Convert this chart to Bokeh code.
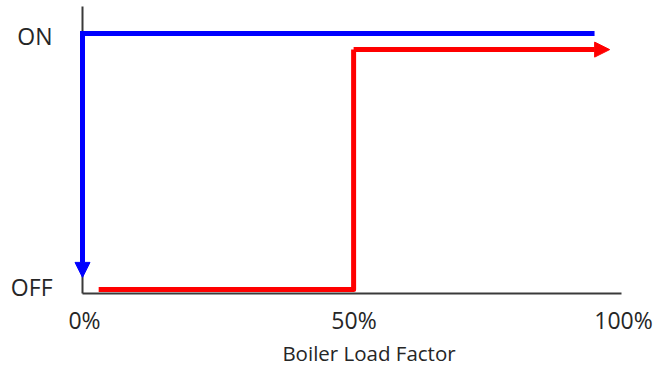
from bokeh.plotting import figure
from bokeh.models import Range1d, Arrow, NormalHead, FixedTicker, Label
from bokeh.embed import file_html
from bokeh.resources import INLINE

# data (x in % of boiler load, y: 0 = OFF, 1 = ON)
x_ticks = [0, 50, 100]
x_tick_labels = ["0%", "50%", "100%"]
y_ticks = [0, 1]
y_tick_labels = ["OFF", "ON"]
x_title = "Boiler Load Factor"

blue_x = [95, 0, 0]
blue_y = [1, 1, 0.062]

red_x = [3, 50.3, 50.3, 97.8]
red_y = [0.015, 0.015, 0.938, 0.938]

FONT = "Open Sans"
TEXT = "#262626"
AXIS = "#3a3a3a"
BLUE = "#0000FF"
RED = "#FF0000"

# scale: pixels per data unit
PX_X = 5.39
PX_Y = 260.0
W, H = 662, 367
X0_PX, Y0_PX = 82, 293   # where (0%, OFF) sits on the canvas

x_range = Range1d(-X0_PX / PX_X, (W - X0_PX) / PX_X)
y_range = Range1d(-(H - Y0_PX) / PX_Y, Y0_PX / PX_Y)

p = figure(width=W, height=H, output_backend="svg", toolbar_location=None,
           x_range=x_range, y_range=y_range,
           min_border_left=0, min_border_right=0, min_border_top=0, min_border_bottom=0)
p.outline_line_color = None
p.xgrid.grid_line_color = None
p.ygrid.grid_line_color = None

for ax in (p.xaxis[0], p.yaxis[0]):
    ax.axis_line_color = AXIS
    ax.axis_line_width = 2
    ax.major_tick_line_color = None
    ax.minor_tick_line_color = None
    ax.major_tick_out = 0
    ax.major_tick_in = 0
    ax.minor_tick_out = 0
    ax.minor_tick_in = 0
    ax.major_label_standoff = 0
    ax.ticker = FixedTicker(ticks=[])
    ax.fixed_location = 0

p.xaxis.bounds = (x_ticks[0], x_ticks[-1])
p.yaxis.bounds = (0, (Y0_PX - 6) / PX_Y)

# tick labels at the scale positions
for xv, lab in zip(x_ticks, x_tick_labels):
    p.add_layout(Label(x=xv, y=-26 / PX_Y, x_offset=2, text=lab, text_align="center",
                       text_baseline="alphabetic", text_font=FONT, text_font_size="23px",
                       text_color=TEXT))

for yv, lab in zip(y_ticks, y_tick_labels):
    p.add_layout(Label(x=-30 / PX_X, y=yv, y_offset=(7 if yv == 0 else -2), text=lab,
                       text_align="right", text_baseline="middle",
                       text_font=FONT, text_font_size="23px", text_color=TEXT))

p.add_layout(Label(x=(368.5 - X0_PX) / PX_X, y=-59 / PX_Y, text=x_title, text_align="center",
                   text_baseline="alphabetic", text_font=FONT, text_font_size="20.5px",
                   text_color=TEXT))

# blue: ON across, then drops to OFF at 0%
p.line(blue_x[:2], blue_y[:2], line_color=BLUE, line_width=5)
p.add_layout(Arrow(end=NormalHead(size=15, fill_color=BLUE, line_color=BLUE, line_width=1),
                   x_start=blue_x[1], y_start=blue_y[1] + 2.4 / PX_Y, x_end=blue_x[2], y_end=blue_y[2],
                   line_color=BLUE, line_width=5))

# red: OFF until 50%, then ON
p.line(red_x[:-1], red_y[:-1], line_color=RED, line_width=5, line_join="round")
p.add_layout(Arrow(end=NormalHead(size=15, fill_color=RED, line_color=RED, line_width=1),
                   x_start=red_x[-2], y_start=red_y[-2], x_end=red_x[-1], y_end=red_y[-1],
                   line_color=RED, line_width=5))

open("out.html", "w").write(file_html(p, INLINE))
